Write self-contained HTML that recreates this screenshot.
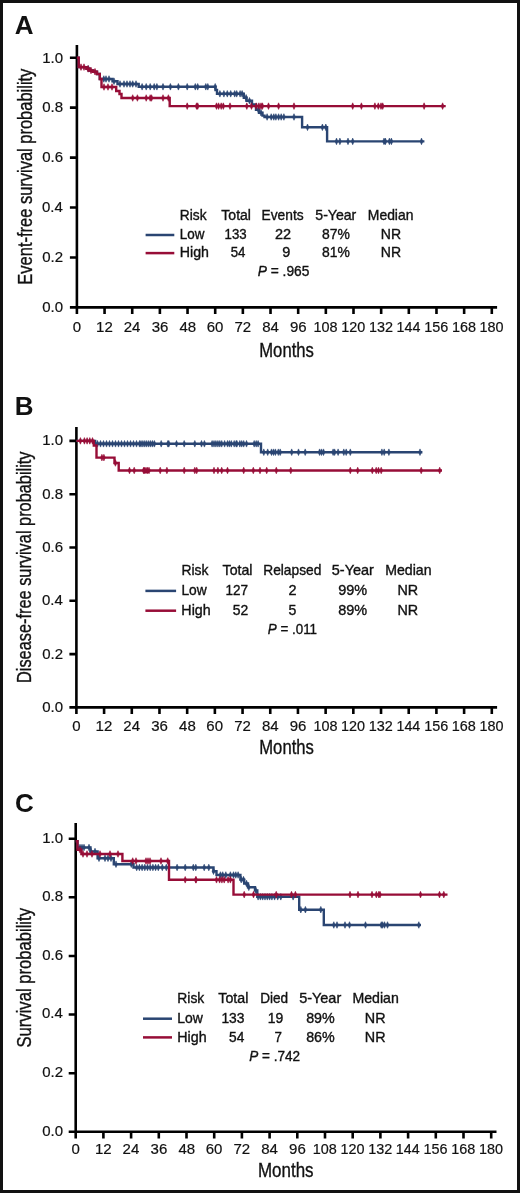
<!DOCTYPE html><html><head><meta charset="utf-8"><style>html,body{margin:0;padding:0;background:#fff;}svg{display:block;will-change:transform;}text{font-family:"Liberation Sans",sans-serif;}</style></head><body>
<svg width="520" height="1193" viewBox="0 0 520 1193">
<rect x="0" y="0" width="520" height="1193" fill="#fff"/>
<rect x="1.5" y="1.5" width="517" height="1190" fill="none" stroke="#111" stroke-width="3"/>
<path d="M76.9 45V314M69.9 307.4H497.1M69.9 257.46H76.9M69.9 207.52H76.9M69.9 157.58H76.9M69.9 107.64H76.9M69.9 57.7H76.9M104.56 307.4V314M132.22 307.4V314M159.88 307.4V314M187.54 307.4V314M215.2 307.4V314M242.86 307.4V314M270.52 307.4V314M298.18 307.4V314M325.84 307.4V314M353.5 307.4V314M381.16 307.4V314M408.82 307.4V314M436.48 307.4V314M464.14 307.4V314M491.8 307.4V314" fill="none" stroke="#000" stroke-width="2.6" stroke-linecap="butt"/>
<path d="M76.4 426.9V714M69.4 707.4H497.1M69.4 654.1H76.4M69.4 600.8H76.4M69.4 547.5H76.4M69.4 494.2H76.4M69.4 440.9H76.4M104.09 707.4V714M131.79 707.4V714M159.48 707.4V714M187.17 707.4V714M214.87 707.4V714M242.56 707.4V714M270.25 707.4V714M297.95 707.4V714M325.64 707.4V714M353.33 707.4V714M381.03 707.4V714M408.72 707.4V714M436.41 707.4V714M464.11 707.4V714M491.8 707.4V714" fill="none" stroke="#000" stroke-width="2.6" stroke-linecap="butt"/>
<path d="M75.7 823.1V1138.4M68.7 1131.8H496.5M68.7 1073.18H75.7M68.7 1014.56H75.7M68.7 955.94H75.7M68.7 897.32H75.7M68.7 838.7H75.7M103.4 1131.8V1138.4M131.1 1131.8V1138.4M158.8 1131.8V1138.4M186.5 1131.8V1138.4M214.2 1131.8V1138.4M241.9 1131.8V1138.4M269.6 1131.8V1138.4M297.3 1131.8V1138.4M325 1131.8V1138.4M352.7 1131.8V1138.4M380.4 1131.8V1138.4M408.1 1131.8V1138.4M435.8 1131.8V1138.4M463.5 1131.8V1138.4M491.2 1131.8V1138.4" fill="none" stroke="#000" stroke-width="2.6" stroke-linecap="butt"/>
<path d="M76.9 57.7H78.7V67.1H86.5V68.8H89.5V70.5H93V71.7H97V74H99.8V79H112.5V81.2H117.5V84H138.7V86.8H215.5V90H217V93.8H243.8V97.8H246.5V100.8H252V104.5H256V109.8H259V112.7H262.5V115.6H264.5V117H302.1V127.3H327.1V141.4H424.4" fill="none" stroke="#2a4572" stroke-width="2.4" stroke-linejoin="miter"/>
<path d="M88.3 65.5L89.7 68.8L88.3 72.1L86.9 68.8ZM103.8 75.7L105.2 79L103.8 82.3L102.4 79ZM106 75.7L107.4 79L106 82.3L104.6 79ZM109 75.7L110.4 79L109 82.3L107.6 79ZM114 77.9L115.4 81.2L114 84.5L112.6 81.2ZM120 80.7L121.4 84L120 87.3L118.6 84ZM124 80.7L125.4 84L124 87.3L122.6 84ZM127 80.7L128.4 84L127 87.3L125.6 84ZM130 80.7L131.4 84L130 87.3L128.6 84ZM132.7 80.7L134.1 84L132.7 87.3L131.3 84ZM136 80.7L137.4 84L136 87.3L134.6 84ZM142.1 83.5L143.5 86.8L142.1 90.1L140.7 86.8ZM146.2 83.5L147.6 86.8L146.2 90.1L144.8 86.8ZM150.2 83.5L151.6 86.8L150.2 90.1L148.8 86.8ZM154.2 83.5L155.6 86.8L154.2 90.1L152.8 86.8ZM156.9 83.5L158.3 86.8L156.9 90.1L155.5 86.8ZM163 83.5L164.4 86.8L163 90.1L161.6 86.8ZM170.4 83.5L171.8 86.8L170.4 90.1L169 86.8ZM178.4 83.5L179.8 86.8L178.4 90.1L177 86.8ZM187.2 83.5L188.6 86.8L187.2 90.1L185.8 86.8ZM195.3 83.5L196.7 86.8L195.3 90.1L193.9 86.8ZM197.7 83.5L199.1 86.8L197.7 90.1L196.3 86.8ZM205.8 83.5L207.2 86.8L205.8 90.1L204.4 86.8ZM207.8 83.5L209.2 86.8L207.8 90.1L206.4 86.8ZM215.2 83.5L216.6 86.8L215.2 90.1L213.8 86.8ZM219.9 90.5L221.3 93.8L219.9 97.1L218.5 93.8ZM223.9 90.5L225.3 93.8L223.9 97.1L222.5 93.8ZM227.3 90.5L228.7 93.8L227.3 97.1L225.9 93.8ZM230.7 90.5L232.1 93.8L230.7 97.1L229.3 93.8ZM234.7 90.5L236.1 93.8L234.7 97.1L233.3 93.8ZM236.7 90.5L238.1 93.8L236.7 97.1L235.3 93.8ZM240.1 90.5L241.5 93.8L240.1 97.1L238.7 93.8ZM242.1 90.5L243.5 93.8L242.1 97.1L240.7 93.8ZM246.1 94.5L247.5 97.8L246.1 101.1L244.7 97.8ZM249.5 97.5L250.9 100.8L249.5 104.1L248.1 100.8ZM258.4 106.5L259.8 109.8L258.4 113.1L257 109.8ZM261 109.4L262.4 112.7L261 116L259.6 112.7ZM267.1 113.7L268.5 117L267.1 120.3L265.7 117ZM271.2 113.7L272.6 117L271.2 120.3L269.8 117ZM273.8 113.7L275.2 117L273.8 120.3L272.4 117ZM275.9 113.7L277.3 117L275.9 120.3L274.5 117ZM278.6 113.7L280 117L278.6 120.3L277.2 117ZM281.2 113.7L282.6 117L281.2 120.3L279.8 117ZM283.9 113.7L285.3 117L283.9 120.3L282.5 117ZM294 113.7L295.4 117L294 120.3L292.6 117ZM307.5 124L308.9 127.3L307.5 130.6L306.1 127.3ZM322.4 124L323.8 127.3L322.4 130.6L321 127.3ZM325.8 124L327.2 127.3L325.8 130.6L324.4 127.3ZM336.5 138.1L337.9 141.4L336.5 144.7L335.1 141.4ZM339.9 138.1L341.3 141.4L339.9 144.7L338.5 141.4ZM348 138.1L349.4 141.4L348 144.7L346.6 141.4ZM352.7 138.1L354.1 141.4L352.7 144.7L351.3 141.4ZM384 138.1L385.4 141.4L384 144.7L382.6 141.4ZM385.4 138.1L386.8 141.4L385.4 144.7L384 141.4ZM389.4 138.1L390.8 141.4L389.4 144.7L388 141.4ZM391.4 138.1L392.8 141.4L391.4 144.7L390 141.4ZM421.5 138.1L422.9 141.4L421.5 144.7L420.1 141.4Z" fill="#2a4572" stroke="#2a4572" stroke-width="0.6" stroke-linejoin="round"/>
<path d="M76.9 57.7H78.7V67.1H86.5V68.8H89.5V70.5H93V71.7H97V74H99.8V79H101.5V87H116.2V91H119.5V94H121.5V98H169.7V106.1H445.7" fill="none" stroke="#970d37" stroke-width="2.4" stroke-linejoin="miter"/>
<path d="M81 63.8L82.4 67.1L81 70.4L79.6 67.1ZM84 63.8L85.4 67.1L84 70.4L82.6 67.1ZM88 65.5L89.4 68.8L88 72.1L86.6 68.8ZM91 67.2L92.4 70.5L91 73.8L89.6 70.5ZM95 68.4L96.4 71.7L95 75L93.6 71.7ZM104 83.7L105.4 87L104 90.3L102.6 87ZM108 83.7L109.4 87L108 90.3L106.6 87ZM112 83.7L113.4 87L112 90.3L110.6 87ZM132.7 94.7L134.1 98L132.7 101.3L131.3 98ZM137.4 94.7L138.8 98L137.4 101.3L136 98ZM146.2 94.7L147.6 98L146.2 101.3L144.8 98ZM150.2 94.7L151.6 98L150.2 101.3L148.8 98ZM151.5 94.7L152.9 98L151.5 101.3L150.1 98ZM163 94.7L164.4 98L163 101.3L161.6 98ZM168.4 94.7L169.8 98L168.4 101.3L167 98ZM187.2 102.8L188.6 106.1L187.2 109.4L185.8 106.1ZM196.6 102.8L198 106.1L196.6 109.4L195.2 106.1ZM197.7 102.8L199.1 106.1L197.7 109.4L196.3 106.1ZM216.5 102.8L217.9 106.1L216.5 109.4L215.1 106.1ZM218.6 102.8L220 106.1L218.6 109.4L217.2 106.1ZM221.2 102.8L222.6 106.1L221.2 109.4L219.8 106.1ZM223.3 102.8L224.7 106.1L223.3 109.4L221.9 106.1ZM230 102.8L231.4 106.1L230 109.4L228.6 106.1ZM246.8 102.8L248.2 106.1L246.8 109.4L245.4 106.1ZM251.5 102.8L252.9 106.1L251.5 109.4L250.1 106.1ZM256.2 102.8L257.6 106.1L256.2 109.4L254.8 106.1ZM258.9 102.8L260.3 106.1L258.9 109.4L257.5 106.1ZM261 102.8L262.4 106.1L261 109.4L259.6 106.1ZM262.4 102.8L263.8 106.1L262.4 109.4L261 106.1ZM268.5 102.8L269.9 106.1L268.5 109.4L267.1 106.1ZM278.6 102.8L280 106.1L278.6 109.4L277.2 106.1ZM294 102.8L295.4 106.1L294 109.4L292.6 106.1ZM352.7 102.8L354.1 106.1L352.7 109.4L351.3 106.1ZM361.4 102.8L362.8 106.1L361.4 109.4L360 106.1ZM374.9 102.8L376.3 106.1L374.9 109.4L373.5 106.1ZM378.3 102.8L379.7 106.1L378.3 109.4L376.9 106.1ZM381 102.8L382.4 106.1L381 109.4L379.6 106.1ZM382.7 102.8L384.1 106.1L382.7 109.4L381.3 106.1ZM424.1 102.8L425.5 106.1L424.1 109.4L422.7 106.1ZM442.6 102.8L444 106.1L442.6 109.4L441.2 106.1Z" fill="#970d37" stroke="#970d37" stroke-width="0.6" stroke-linejoin="round"/>
<path d="M76.4 440.9H95.2V443.8H261V452.2H422.4" fill="none" stroke="#2a4572" stroke-width="2.4" stroke-linejoin="miter"/>
<path d="M97.5 440.5L98.9 443.8L97.5 447.1L96.1 443.8ZM100.5 440.5L101.9 443.8L100.5 447.1L99.1 443.8ZM103.5 440.5L104.9 443.8L103.5 447.1L102.1 443.8ZM106.5 440.5L107.9 443.8L106.5 447.1L105.1 443.8ZM109.5 440.5L110.9 443.8L109.5 447.1L108.1 443.8ZM112.5 440.5L113.9 443.8L112.5 447.1L111.1 443.8ZM115.5 440.5L116.9 443.8L115.5 447.1L114.1 443.8ZM118.5 440.5L119.9 443.8L118.5 447.1L117.1 443.8ZM121.5 440.5L122.9 443.8L121.5 447.1L120.1 443.8ZM124.5 440.5L125.9 443.8L124.5 447.1L123.1 443.8ZM127.5 440.5L128.9 443.8L127.5 447.1L126.1 443.8ZM130.5 440.5L131.9 443.8L130.5 447.1L129.1 443.8ZM133.5 440.5L134.9 443.8L133.5 447.1L132.1 443.8ZM136.5 440.5L137.9 443.8L136.5 447.1L135.1 443.8ZM139.5 440.5L140.9 443.8L139.5 447.1L138.1 443.8ZM141 440.5L142.4 443.8L141 447.1L139.6 443.8ZM142.9 440.5L144.3 443.8L142.9 447.1L141.5 443.8ZM144.8 440.5L146.2 443.8L144.8 447.1L143.4 443.8ZM146.7 440.5L148.1 443.8L146.7 447.1L145.3 443.8ZM148.7 440.5L150.1 443.8L148.7 447.1L147.3 443.8ZM150.6 440.5L152 443.8L150.6 447.1L149.2 443.8ZM152.5 440.5L153.9 443.8L152.5 447.1L151.1 443.8ZM154.4 440.5L155.8 443.8L154.4 447.1L153 443.8ZM161.2 440.5L162.6 443.8L161.2 447.1L159.8 443.8ZM167.9 440.5L169.3 443.8L167.9 447.1L166.5 443.8ZM168.8 440.5L170.2 443.8L168.8 447.1L167.4 443.8ZM176.5 440.5L177.9 443.8L176.5 447.1L175.1 443.8ZM184.2 440.5L185.6 443.8L184.2 447.1L182.8 443.8ZM194.8 440.5L196.2 443.8L194.8 447.1L193.4 443.8ZM201.5 440.5L202.9 443.8L201.5 447.1L200.1 443.8ZM204.4 440.5L205.8 443.8L204.4 447.1L203 443.8ZM212.1 440.5L213.5 443.8L212.1 447.1L210.7 443.8ZM214 440.5L215.4 443.8L214 447.1L212.6 443.8ZM215.9 440.5L217.3 443.8L215.9 447.1L214.5 443.8ZM217.9 440.5L219.3 443.8L217.9 447.1L216.5 443.8ZM219.8 440.5L221.2 443.8L219.8 447.1L218.4 443.8ZM221.7 440.5L223.1 443.8L221.7 447.1L220.3 443.8ZM224.6 440.5L226 443.8L224.6 447.1L223.2 443.8ZM227.5 440.5L228.9 443.8L227.5 447.1L226.1 443.8ZM229.4 440.5L230.8 443.8L229.4 447.1L228 443.8ZM231.3 440.5L232.7 443.8L231.3 447.1L229.9 443.8ZM234.2 440.5L235.6 443.8L234.2 447.1L232.8 443.8ZM236.2 440.5L237.6 443.8L236.2 447.1L234.8 443.8ZM236.9 440.5L238.3 443.8L236.9 447.1L235.5 443.8ZM239.8 440.5L241.2 443.8L239.8 447.1L238.4 443.8ZM241.7 440.5L243.1 443.8L241.7 447.1L240.3 443.8ZM243.7 440.5L245.1 443.8L243.7 447.1L242.3 443.8ZM246.5 440.5L247.9 443.8L246.5 447.1L245.1 443.8ZM254.2 440.5L255.6 443.8L254.2 447.1L252.8 443.8ZM256.2 440.5L257.6 443.8L256.2 447.1L254.8 443.8ZM258.1 440.5L259.5 443.8L258.1 447.1L256.7 443.8ZM263.8 448.9L265.2 452.2L263.8 455.5L262.4 452.2ZM267.7 448.9L269.1 452.2L267.7 455.5L266.3 452.2ZM271.5 448.9L272.9 452.2L271.5 455.5L270.1 452.2ZM273.5 448.9L274.9 452.2L273.5 455.5L272.1 452.2ZM275.4 448.9L276.8 452.2L275.4 455.5L274 452.2ZM278.3 448.9L279.7 452.2L278.3 455.5L276.9 452.2ZM280.2 448.9L281.6 452.2L280.2 455.5L278.8 452.2ZM291.7 448.9L293.1 452.2L291.7 455.5L290.3 452.2ZM298.5 448.9L299.9 452.2L298.5 455.5L297.1 452.2ZM305.2 448.9L306.6 452.2L305.2 455.5L303.8 452.2ZM319.6 448.9L321 452.2L319.6 455.5L318.2 452.2ZM321.5 448.9L322.9 452.2L321.5 455.5L320.1 452.2ZM323.5 448.9L324.9 452.2L323.5 455.5L322.1 452.2ZM333.1 448.9L334.5 452.2L333.1 455.5L331.7 452.2ZM334.6 448.9L336 452.2L334.6 455.5L333.2 452.2ZM338.1 448.9L339.5 452.2L338.1 455.5L336.7 452.2ZM343.8 448.9L345.2 452.2L343.8 455.5L342.4 452.2ZM346.2 448.9L347.6 452.2L346.2 455.5L344.8 452.2ZM350.3 448.9L351.7 452.2L350.3 455.5L348.9 452.2ZM381.9 448.9L383.3 452.2L381.9 455.5L380.5 452.2ZM384.2 448.9L385.6 452.2L384.2 455.5L382.8 452.2ZM388.9 448.9L390.3 452.2L388.9 455.5L387.5 452.2ZM420 448.9L421.4 452.2L420 455.5L418.6 452.2Z" fill="#2a4572" stroke="#2a4572" stroke-width="0.6" stroke-linejoin="round"/>
<path d="M76.4 440.9H93.8V445.5H96.5V457.6H114.5V463H118.7V470.5H442" fill="none" stroke="#970d37" stroke-width="2.4" stroke-linejoin="miter"/>
<path d="M80.4 437.6L81.8 440.9L80.4 444.2L79 440.9ZM84.4 437.6L85.8 440.9L84.4 444.2L83 440.9ZM87.1 437.6L88.5 440.9L87.1 444.2L85.7 440.9ZM89.8 437.6L91.2 440.9L89.8 444.2L88.4 440.9ZM92.5 437.6L93.9 440.9L92.5 444.2L91.1 440.9ZM101.9 454.3L103.3 457.6L101.9 460.9L100.5 457.6ZM103.9 454.3L105.3 457.6L103.9 460.9L102.5 457.6ZM115.4 459.7L116.8 463L115.4 466.3L114 463ZM129.5 467.2L130.9 470.5L129.5 473.8L128.1 470.5ZM134.2 467.2L135.6 470.5L134.2 473.8L132.8 470.5ZM143.6 467.2L145 470.5L143.6 473.8L142.2 470.5ZM144.5 467.2L145.9 470.5L144.5 473.8L143.1 470.5ZM146 467.2L147.4 470.5L146 473.8L144.6 470.5ZM147.5 467.2L148.9 470.5L147.5 473.8L146.1 470.5ZM149 467.2L150.4 470.5L149 473.8L147.6 470.5ZM160.2 467.2L161.6 470.5L160.2 473.8L158.8 470.5ZM166.9 467.2L168.3 470.5L166.9 473.8L165.5 470.5ZM184.2 467.2L185.6 470.5L184.2 473.8L182.8 470.5ZM194.8 467.2L196.2 470.5L194.8 473.8L193.4 470.5ZM196.7 467.2L198.1 470.5L196.7 473.8L195.3 470.5ZM214 467.2L215.4 470.5L214 473.8L212.6 470.5ZM217.9 467.2L219.3 470.5L217.9 473.8L216.5 470.5ZM221.7 467.2L223.1 470.5L221.7 473.8L220.3 470.5ZM227.5 467.2L228.9 470.5L227.5 473.8L226.1 470.5ZM243.7 467.2L245.1 470.5L243.7 473.8L242.3 470.5ZM253.3 467.2L254.7 470.5L253.3 473.8L251.9 470.5ZM260 467.2L261.4 470.5L260 473.8L258.6 470.5ZM266.7 467.2L268.1 470.5L266.7 473.8L265.3 470.5ZM276.3 467.2L277.7 470.5L276.3 473.8L274.9 470.5ZM290.8 467.2L292.2 470.5L290.8 473.8L289.4 470.5ZM350.3 467.2L351.7 470.5L350.3 473.8L348.9 470.5ZM357.7 467.2L359.1 470.5L357.7 473.8L356.3 470.5ZM372.3 467.2L373.7 470.5L372.3 473.8L370.9 470.5ZM376.2 467.2L377.6 470.5L376.2 473.8L374.8 470.5ZM378.5 467.2L379.9 470.5L378.5 473.8L377.1 470.5ZM381.2 467.2L382.6 470.5L381.2 473.8L379.8 470.5ZM421.2 467.2L422.6 470.5L421.2 473.8L419.8 470.5ZM439.7 467.2L441.1 470.5L439.7 473.8L438.3 470.5Z" fill="#970d37" stroke="#970d37" stroke-width="0.6" stroke-linejoin="round"/>
<path d="M75.7 841.2H77.5V847.5H90.5V851.5H97.6V858.3H113.8V864.2H133.5V867.5H213.5V871.2H216.5V875H240.4V879.6H244.2V883.5H248V887.3H255V890.4H257.3V896.8H299.2V909.7H323.8V925H421" fill="none" stroke="#2a4572" stroke-width="2.4" stroke-linejoin="miter"/>
<path d="M80 844.2L81.4 847.5L80 850.8L78.6 847.5ZM82 844.2L83.4 847.5L82 850.8L80.6 847.5ZM84 844.2L85.4 847.5L84 850.8L82.6 847.5ZM89 844.2L90.4 847.5L89 850.8L87.6 847.5ZM91 848.2L92.4 851.5L91 854.8L89.6 851.5ZM95 848.2L96.4 851.5L95 854.8L93.6 851.5ZM99 855L100.4 858.3L99 861.6L97.6 858.3ZM105 855L106.4 858.3L105 861.6L103.6 858.3ZM108 855L109.4 858.3L108 861.6L106.6 858.3ZM111 855L112.4 858.3L111 861.6L109.6 858.3ZM116 860.9L117.4 864.2L116 867.5L114.6 864.2ZM131.3 860.9L132.7 864.2L131.3 867.5L129.9 864.2ZM136.7 864.2L138.1 867.5L136.7 870.8L135.3 867.5ZM139.4 864.2L140.8 867.5L139.4 870.8L138 867.5ZM142.1 864.2L143.5 867.5L142.1 870.8L140.7 867.5ZM144.8 864.2L146.2 867.5L144.8 870.8L143.4 867.5ZM147.5 864.2L148.9 867.5L147.5 870.8L146.1 867.5ZM150.2 864.2L151.6 867.5L150.2 870.8L148.8 867.5ZM152.9 864.2L154.3 867.5L152.9 870.8L151.5 867.5ZM155.6 864.2L157 867.5L155.6 870.8L154.2 867.5ZM158.3 864.2L159.7 867.5L158.3 870.8L156.9 867.5ZM162.3 864.2L163.7 867.5L162.3 870.8L160.9 867.5ZM166.3 864.2L167.7 867.5L166.3 870.8L164.9 867.5ZM177.1 864.2L178.5 867.5L177.1 870.8L175.7 867.5ZM185.2 864.2L186.6 867.5L185.2 870.8L183.8 867.5ZM193.3 864.2L194.7 867.5L193.3 870.8L191.9 867.5ZM195.8 864.2L197.2 867.5L195.8 870.8L194.4 867.5ZM204.2 864.2L205.6 867.5L204.2 870.8L202.8 867.5ZM208.8 864.2L210.2 867.5L208.8 870.8L207.4 867.5ZM213.5 867.9L214.9 871.2L213.5 874.5L212.1 871.2ZM220.4 871.7L221.8 875L220.4 878.3L219 875ZM222.7 871.7L224.1 875L222.7 878.3L221.3 875ZM225.8 871.7L227.2 875L225.8 878.3L224.4 875ZM230.4 871.7L231.8 875L230.4 878.3L229 875ZM233.5 871.7L234.9 875L233.5 878.3L232.1 875ZM235.8 871.7L237.2 875L235.8 878.3L234.4 875ZM238.1 871.7L239.5 875L238.1 878.3L236.7 875ZM241.2 876.3L242.6 879.6L241.2 882.9L239.8 879.6ZM243.5 876.3L244.9 879.6L243.5 882.9L242.1 879.6ZM246.5 880.2L247.9 883.5L246.5 886.8L245.1 883.5ZM248.8 884L250.2 887.3L248.8 890.6L247.4 887.3ZM255.8 887.1L257.2 890.4L255.8 893.7L254.4 890.4ZM258.1 893.5L259.5 896.8L258.1 900.1L256.7 896.8ZM260.4 893.5L261.8 896.8L260.4 900.1L259 896.8ZM262.7 893.5L264.1 896.8L262.7 900.1L261.3 896.8ZM265 893.5L266.4 896.8L265 900.1L263.6 896.8ZM267.3 893.5L268.7 896.8L267.3 900.1L265.9 896.8ZM269.6 893.5L271 896.8L269.6 900.1L268.2 896.8ZM271.9 893.5L273.3 896.8L271.9 900.1L270.5 896.8ZM274.6 893.5L276 896.8L274.6 900.1L273.2 896.8ZM277.7 893.5L279.1 896.8L277.7 900.1L276.3 896.8ZM280.8 893.5L282.2 896.8L280.8 900.1L279.4 896.8ZM293.1 893.5L294.5 896.8L293.1 900.1L291.7 896.8ZM300.8 906.4L302.2 909.7L300.8 913L299.4 909.7ZM305.4 906.4L306.8 909.7L305.4 913L304 909.7ZM320.8 906.4L322.2 909.7L320.8 913L319.4 909.7ZM333.8 921.7L335.2 925L333.8 928.3L332.4 925ZM337 921.7L338.4 925L337 928.3L335.6 925ZM345 921.7L346.4 925L345 928.3L343.6 925ZM349.5 921.7L350.9 925L349.5 928.3L348.1 925ZM365.5 921.7L366.9 925L365.5 928.3L364.1 925ZM381.3 921.7L382.7 925L381.3 928.3L379.9 925ZM382.5 921.7L383.9 925L382.5 928.3L381.1 925ZM384.5 921.7L385.9 925L384.5 928.3L383.1 925ZM387.5 921.7L388.9 925L387.5 928.3L386.1 925ZM418.8 921.7L420.2 925L418.8 928.3L417.4 925Z" fill="#2a4572" stroke="#2a4572" stroke-width="0.6" stroke-linejoin="round"/>
<path d="M75.7 841.2H77.5V849.8H81.4V854H122.4V861H169V879.8H233.5V894.6H447.5" fill="none" stroke="#970d37" stroke-width="2.4" stroke-linejoin="miter"/>
<path d="M80 846.5L81.4 849.8L80 853.1L78.6 849.8ZM83 850.7L84.4 854L83 857.3L81.6 854ZM87 850.7L88.4 854L87 857.3L85.6 854ZM92 850.7L93.4 854L92 857.3L90.6 854ZM100 850.7L101.4 854L100 857.3L98.6 854ZM110 850.7L111.4 854L110 857.3L108.6 854ZM118 850.7L119.4 854L118 857.3L116.6 854ZM132.7 857.7L134.1 861L132.7 864.3L131.3 861ZM136 857.7L137.4 861L136 864.3L134.6 861ZM146 857.7L147.4 861L146 864.3L144.6 861ZM148 857.7L149.4 861L148 864.3L146.6 861ZM150 857.7L151.4 861L150 864.3L148.6 861ZM161 857.7L162.4 861L161 864.3L159.6 861ZM167.7 857.7L169.1 861L167.7 864.3L166.3 861ZM185.2 876.5L186.6 879.8L185.2 883.1L183.8 879.8ZM196 876.5L197.4 879.8L196 883.1L194.6 879.8ZM195.8 876.5L197.2 879.8L195.8 883.1L194.4 879.8ZM216.5 876.5L217.9 879.8L216.5 883.1L215.1 879.8ZM219.6 876.5L221 879.8L219.6 883.1L218.2 879.8ZM221.9 876.5L223.3 879.8L221.9 883.1L220.5 879.8ZM224.2 876.5L225.6 879.8L224.2 883.1L222.8 879.8ZM228.1 876.5L229.5 879.8L228.1 883.1L226.7 879.8ZM230.4 876.5L231.8 879.8L230.4 883.1L229 879.8ZM244.2 891.3L245.6 894.6L244.2 897.9L242.8 894.6ZM253.5 891.3L254.9 894.6L253.5 897.9L252.1 894.6ZM276.2 891.3L277.6 894.6L276.2 897.9L274.8 894.6ZM291.5 891.3L292.9 894.6L291.5 897.9L290.1 894.6ZM295.4 891.3L296.8 894.6L295.4 897.9L294 894.6ZM350 891.3L351.4 894.6L350 897.9L348.6 894.6ZM358 891.3L359.4 894.6L358 897.9L356.6 894.6ZM372 891.3L373.4 894.6L372 897.9L370.6 894.6ZM376.3 891.3L377.7 894.6L376.3 897.9L374.9 894.6ZM378.8 891.3L380.2 894.6L378.8 897.9L377.4 894.6ZM380 891.3L381.4 894.6L380 897.9L378.6 894.6ZM420.5 891.3L421.9 894.6L420.5 897.9L419.1 894.6ZM439.5 891.3L440.9 894.6L439.5 897.9L438.1 894.6ZM443.8 891.3L445.2 894.6L443.8 897.9L442.4 894.6Z" fill="#970d37" stroke="#970d37" stroke-width="0.6" stroke-linejoin="round"/>
<path d="M145.6 235H174.3" stroke="#2a4572" stroke-width="2.5"/>
<path d="M145.6 253.1H174.3" stroke="#970d37" stroke-width="2.5"/>
<path d="M145.4 590.9H176.1" stroke="#2a4572" stroke-width="2.5"/>
<path d="M145.4 610.7H176.1" stroke="#970d37" stroke-width="2.5"/>
<path d="M143 1018.7H172" stroke="#2a4572" stroke-width="2.5"/>
<path d="M143 1037.4H172" stroke="#970d37" stroke-width="2.5"/>
<text transform="translate(14.67 33.5)" font-size="26" font-weight="bold" fill="#111">A</text>
<text transform="translate(14.73 415.4)" font-size="26" font-weight="bold" fill="#111">B</text>
<text transform="translate(14.9 812.4)" font-size="26" font-weight="bold" fill="#111">C</text>
<text transform="translate(42.15 312.2)" font-size="15.0" fill="#111" stroke="#111" stroke-width="0.2">0.0</text>
<text transform="translate(42.15 262.26)" font-size="15.0" fill="#111" stroke="#111" stroke-width="0.2">0.2</text>
<text transform="translate(41.9 212.32)" font-size="15.0" fill="#111" stroke="#111" stroke-width="0.2">0.4</text>
<text transform="translate(42.15 162.38)" font-size="15.0" fill="#111" stroke="#111" stroke-width="0.2">0.6</text>
<text transform="translate(42.15 112.44)" font-size="15.0" fill="#111" stroke="#111" stroke-width="0.2">0.8</text>
<text transform="translate(42.15 62.5)" font-size="15.0" fill="#111" stroke="#111" stroke-width="0.2">1.0</text>
<text transform="translate(72.78 331.9)" font-size="15.0" fill="#111" stroke="#111" stroke-width="0.2">0</text>
<text transform="translate(96.06 331.9)" font-size="15.0" fill="#111" stroke="#111" stroke-width="0.2">12</text>
<text transform="translate(123.72 331.9)" font-size="15.0" fill="#111" stroke="#111" stroke-width="0.2">24</text>
<text transform="translate(151.63 331.9)" font-size="15.0" fill="#111" stroke="#111" stroke-width="0.2">36</text>
<text transform="translate(179.41 331.9)" font-size="15.0" fill="#111" stroke="#111" stroke-width="0.2">48</text>
<text transform="translate(206.7 331.9)" font-size="15.0" fill="#111" stroke="#111" stroke-width="0.2">60</text>
<text transform="translate(234.49 331.9)" font-size="15.0" fill="#111" stroke="#111" stroke-width="0.2">72</text>
<text transform="translate(262.14 331.9)" font-size="15.0" fill="#111" stroke="#111" stroke-width="0.2">84</text>
<text transform="translate(289.93 331.9)" font-size="15.0" fill="#111" stroke="#111" stroke-width="0.2">96</text>
<text transform="translate(313.58 331.9) scale(0.9617 1)" font-size="15.0" fill="#111" stroke="#111" stroke-width="0.2">108</text>
<text transform="translate(341.24 331.9) scale(0.9617 1)" font-size="15.0" fill="#111" stroke="#111" stroke-width="0.2">120</text>
<text transform="translate(368.9 331.9) scale(0.9617 1)" font-size="15.0" fill="#111" stroke="#111" stroke-width="0.2">132</text>
<text transform="translate(396.57 331.9) scale(0.9516 1)" font-size="15.0" fill="#111" stroke="#111" stroke-width="0.2">144</text>
<text transform="translate(424.22 331.9) scale(0.9617 1)" font-size="15.0" fill="#111" stroke="#111" stroke-width="0.2">156</text>
<text transform="translate(451.88 331.9) scale(0.9617 1)" font-size="15.0" fill="#111" stroke="#111" stroke-width="0.2">168</text>
<text transform="translate(479.54 331.9) scale(0.9617 1)" font-size="15.0" fill="#111" stroke="#111" stroke-width="0.2">180</text>
<text transform="translate(42.15 711.9)" font-size="15.0" fill="#111" stroke="#111" stroke-width="0.2">0.0</text>
<text transform="translate(42.15 658.6)" font-size="15.0" fill="#111" stroke="#111" stroke-width="0.2">0.2</text>
<text transform="translate(41.9 605.3)" font-size="15.0" fill="#111" stroke="#111" stroke-width="0.2">0.4</text>
<text transform="translate(42.15 552)" font-size="15.0" fill="#111" stroke="#111" stroke-width="0.2">0.6</text>
<text transform="translate(42.15 498.7)" font-size="15.0" fill="#111" stroke="#111" stroke-width="0.2">0.8</text>
<text transform="translate(42.15 445.4)" font-size="15.0" fill="#111" stroke="#111" stroke-width="0.2">1.0</text>
<text transform="translate(72.28 730.7)" font-size="15.0" fill="#111" stroke="#111" stroke-width="0.2">0</text>
<text transform="translate(95.59 730.7)" font-size="15.0" fill="#111" stroke="#111" stroke-width="0.2">12</text>
<text transform="translate(123.29 730.7)" font-size="15.0" fill="#111" stroke="#111" stroke-width="0.2">24</text>
<text transform="translate(151.23 730.7)" font-size="15.0" fill="#111" stroke="#111" stroke-width="0.2">36</text>
<text transform="translate(179.05 730.7)" font-size="15.0" fill="#111" stroke="#111" stroke-width="0.2">48</text>
<text transform="translate(206.37 730.7)" font-size="15.0" fill="#111" stroke="#111" stroke-width="0.2">60</text>
<text transform="translate(234.19 730.7)" font-size="15.0" fill="#111" stroke="#111" stroke-width="0.2">72</text>
<text transform="translate(261.88 730.7)" font-size="15.0" fill="#111" stroke="#111" stroke-width="0.2">84</text>
<text transform="translate(289.7 730.7)" font-size="15.0" fill="#111" stroke="#111" stroke-width="0.2">96</text>
<text transform="translate(313.38 730.7) scale(0.9617 1)" font-size="15.0" fill="#111" stroke="#111" stroke-width="0.2">108</text>
<text transform="translate(341.07 730.7) scale(0.9617 1)" font-size="15.0" fill="#111" stroke="#111" stroke-width="0.2">120</text>
<text transform="translate(368.76 730.7) scale(0.9617 1)" font-size="15.0" fill="#111" stroke="#111" stroke-width="0.2">132</text>
<text transform="translate(396.47 730.7) scale(0.9516 1)" font-size="15.0" fill="#111" stroke="#111" stroke-width="0.2">144</text>
<text transform="translate(424.15 730.7) scale(0.9617 1)" font-size="15.0" fill="#111" stroke="#111" stroke-width="0.2">156</text>
<text transform="translate(451.84 730.7) scale(0.9617 1)" font-size="15.0" fill="#111" stroke="#111" stroke-width="0.2">168</text>
<text transform="translate(479.54 730.7) scale(0.9617 1)" font-size="15.0" fill="#111" stroke="#111" stroke-width="0.2">180</text>
<text transform="translate(42.15 1135.6)" font-size="15.0" fill="#111" stroke="#111" stroke-width="0.2">0.0</text>
<text transform="translate(42.15 1076.98)" font-size="15.0" fill="#111" stroke="#111" stroke-width="0.2">0.2</text>
<text transform="translate(41.9 1018.36)" font-size="15.0" fill="#111" stroke="#111" stroke-width="0.2">0.4</text>
<text transform="translate(42.15 959.74)" font-size="15.0" fill="#111" stroke="#111" stroke-width="0.2">0.6</text>
<text transform="translate(42.15 901.12)" font-size="15.0" fill="#111" stroke="#111" stroke-width="0.2">0.8</text>
<text transform="translate(42.15 842.5)" font-size="15.0" fill="#111" stroke="#111" stroke-width="0.2">1.0</text>
<text transform="translate(71.58 1153.8)" font-size="15.0" fill="#111" stroke="#111" stroke-width="0.2">0</text>
<text transform="translate(94.9 1153.8)" font-size="15.0" fill="#111" stroke="#111" stroke-width="0.2">12</text>
<text transform="translate(122.6 1153.8)" font-size="15.0" fill="#111" stroke="#111" stroke-width="0.2">24</text>
<text transform="translate(150.55 1153.8)" font-size="15.0" fill="#111" stroke="#111" stroke-width="0.2">36</text>
<text transform="translate(178.38 1153.8)" font-size="15.0" fill="#111" stroke="#111" stroke-width="0.2">48</text>
<text transform="translate(205.7 1153.8)" font-size="15.0" fill="#111" stroke="#111" stroke-width="0.2">60</text>
<text transform="translate(233.52 1153.8)" font-size="15.0" fill="#111" stroke="#111" stroke-width="0.2">72</text>
<text transform="translate(261.23 1153.8)" font-size="15.0" fill="#111" stroke="#111" stroke-width="0.2">84</text>
<text transform="translate(289.05 1153.8)" font-size="15.0" fill="#111" stroke="#111" stroke-width="0.2">96</text>
<text transform="translate(312.74 1153.8) scale(0.9617 1)" font-size="15.0" fill="#111" stroke="#111" stroke-width="0.2">108</text>
<text transform="translate(340.44 1153.8) scale(0.9617 1)" font-size="15.0" fill="#111" stroke="#111" stroke-width="0.2">120</text>
<text transform="translate(368.14 1153.8) scale(0.9617 1)" font-size="15.0" fill="#111" stroke="#111" stroke-width="0.2">132</text>
<text transform="translate(395.85 1153.8) scale(0.9516 1)" font-size="15.0" fill="#111" stroke="#111" stroke-width="0.2">144</text>
<text transform="translate(423.54 1153.8) scale(0.9617 1)" font-size="15.0" fill="#111" stroke="#111" stroke-width="0.2">156</text>
<text transform="translate(451.24 1153.8) scale(0.9617 1)" font-size="15.0" fill="#111" stroke="#111" stroke-width="0.2">168</text>
<text transform="translate(478.94 1153.8) scale(0.9617 1)" font-size="15.0" fill="#111" stroke="#111" stroke-width="0.2">180</text>
<text transform="translate(259.25 356.8) scale(0.8331 1)" font-size="20" fill="#111" stroke="#111" stroke-width="0.35">Months</text>
<text transform="translate(259.25 753.8) scale(0.8331 1)" font-size="20" fill="#111" stroke="#111" stroke-width="0.35">Months</text>
<text transform="translate(257.93 1176.9) scale(0.8488 1)" font-size="20" fill="#111" stroke="#111" stroke-width="0.35">Months</text>
<text transform="translate(31.6 284.64) rotate(-90) scale(0.8238 1)" font-size="20" fill="#111" stroke="#111" stroke-width="0.35">Event-free survival probability</text>
<text transform="translate(31.4 683.03) rotate(-90) scale(0.8177 1)" font-size="20" fill="#111" stroke="#111" stroke-width="0.35">Disease-free survival probability</text>
<text transform="translate(31.4 1047.53) rotate(-90) scale(0.8318 1)" font-size="20" fill="#111" stroke="#111" stroke-width="0.35">Survival probability</text>
<text transform="translate(179.8 220) scale(0.9981 1)" font-size="13.8" fill="#111" stroke="#111" stroke-width="0.35">Risk</text>
<text transform="translate(221.35 220) scale(1.0179 1)" font-size="13.8" fill="#111" stroke="#111" stroke-width="0.35">Total</text>
<text transform="translate(261.5 220) scale(0.9988 1)" font-size="13.8" fill="#111" stroke="#111" stroke-width="0.35">Events</text>
<text transform="translate(315.29 220) scale(1.0228 1)" font-size="13.8" fill="#111" stroke="#111" stroke-width="0.35">5-Year</text>
<text transform="translate(367.79 220) scale(1.0092 1)" font-size="13.8" fill="#111" stroke="#111" stroke-width="0.35">Median</text>
<text transform="translate(179.82 238.5) scale(0.9755 1)" font-size="13.8" fill="#111" stroke="#111" stroke-width="0.35">Low</text>
<text transform="translate(224.52 238.5) scale(0.9600 1)" font-size="13.8" fill="#111" stroke="#111" stroke-width="0.35">133</text>
<text transform="translate(274.99 238.5) scale(1.0500 1)" font-size="13.8" fill="#111" stroke="#111" stroke-width="0.35">22</text>
<text transform="translate(322 238.5) scale(1.0093 1)" font-size="13.8" fill="#111" stroke="#111" stroke-width="0.35">87%</text>
<text transform="translate(380.78 238.5) scale(1.0192 1)" font-size="13.8" fill="#111" stroke="#111" stroke-width="0.35">NR</text>
<text transform="translate(179.77 257.3) scale(1.0302 1)" font-size="13.8" fill="#111" stroke="#111" stroke-width="0.35">High</text>
<text transform="translate(230.66 257.3) scale(0.9600 1)" font-size="13.8" fill="#111" stroke="#111" stroke-width="0.35">54</text>
<text transform="translate(282.36 257.3) scale(1.0500 1)" font-size="13.8" fill="#111" stroke="#111" stroke-width="0.35">9</text>
<text transform="translate(322 257.3) scale(1.0093 1)" font-size="13.8" fill="#111" stroke="#111" stroke-width="0.35">81%</text>
<text transform="translate(380.78 257.3) scale(1.0192 1)" font-size="13.8" fill="#111" stroke="#111" stroke-width="0.35">NR</text>
<text transform="translate(257.7 275.5) scale(0.9990 1)" font-size="13.8" fill="#111" stroke="#111" stroke-width="0.35"><tspan font-style="italic">P</tspan> = .965</text>
<text transform="translate(181.39 575) scale(1.0097 1)" font-size="13.8" fill="#111" stroke="#111" stroke-width="0.35">Risk</text>
<text transform="translate(222.54 575) scale(1.0286 1)" font-size="13.8" fill="#111" stroke="#111" stroke-width="0.35">Total</text>
<text transform="translate(263.2 575) scale(0.9982 1)" font-size="13.8" fill="#111" stroke="#111" stroke-width="0.35">Relapsed</text>
<text transform="translate(331.79 575) scale(1.0500 1)" font-size="13.8" fill="#111" stroke="#111" stroke-width="0.35">5-Year</text>
<text transform="translate(385.17 575) scale(1.0253 1)" font-size="13.8" fill="#111" stroke="#111" stroke-width="0.35">Median</text>
<text transform="translate(181.4 595.4) scale(1.0000 1)" font-size="13.8" fill="#111" stroke="#111" stroke-width="0.35">Low</text>
<text transform="translate(225.52 595.4) scale(0.9814 1)" font-size="13.8" fill="#111" stroke="#111" stroke-width="0.35">127</text>
<text transform="translate(288.41 595.4) scale(1.0500 1)" font-size="13.8" fill="#111" stroke="#111" stroke-width="0.35">2</text>
<text transform="translate(338.23 595.4) scale(1.0500 1)" font-size="13.8" fill="#111" stroke="#111" stroke-width="0.35">99%</text>
<text transform="translate(397.46 595.4) scale(1.0411 1)" font-size="13.8" fill="#111" stroke="#111" stroke-width="0.35">NR</text>
<text transform="translate(181.37 614.8) scale(1.0340 1)" font-size="13.8" fill="#111" stroke="#111" stroke-width="0.35">High</text>
<text transform="translate(232.69 614.8) scale(1.0105 1)" font-size="13.8" fill="#111" stroke="#111" stroke-width="0.35">52</text>
<text transform="translate(288.39 614.8) scale(1.0222 1)" font-size="13.8" fill="#111" stroke="#111" stroke-width="0.35">5</text>
<text transform="translate(338.23 614.8) scale(1.0500 1)" font-size="13.8" fill="#111" stroke="#111" stroke-width="0.35">89%</text>
<text transform="translate(397.46 614.8) scale(1.0411 1)" font-size="13.8" fill="#111" stroke="#111" stroke-width="0.35">NR</text>
<text transform="translate(267.71 634.2) scale(0.9729 1)" font-size="13.8" fill="#111" stroke="#111" stroke-width="0.35"><tspan font-style="italic">P</tspan> = .011</text>
<text transform="translate(177.29 1003.3) scale(1.0058 1)" font-size="13.8" fill="#111" stroke="#111" stroke-width="0.35">Risk</text>
<text transform="translate(218.34 1003.3) scale(1.0321 1)" font-size="13.8" fill="#111" stroke="#111" stroke-width="0.35">Total</text>
<text transform="translate(260.22 1003.3) scale(0.9849 1)" font-size="13.8" fill="#111" stroke="#111" stroke-width="0.35">Died</text>
<text transform="translate(299.14 1003.3) scale(1.0500 1)" font-size="13.8" fill="#111" stroke="#111" stroke-width="0.35">5-Year</text>
<text transform="translate(352.47 1003.3) scale(1.0253 1)" font-size="13.8" fill="#111" stroke="#111" stroke-width="0.35">Median</text>
<text transform="translate(177.29 1022.6) scale(1.0122 1)" font-size="13.8" fill="#111" stroke="#111" stroke-width="0.35">Low</text>
<text transform="translate(221.4 1022.6) scale(1.0047 1)" font-size="13.8" fill="#111" stroke="#111" stroke-width="0.35">133</text>
<text transform="translate(267.79 1022.6) scale(1.0109 1)" font-size="13.8" fill="#111" stroke="#111" stroke-width="0.35">19</text>
<text transform="translate(306.18 1022.6) scale(1.0355 1)" font-size="13.8" fill="#111" stroke="#111" stroke-width="0.35">89%</text>
<text transform="translate(364.76 1022.6) scale(1.0411 1)" font-size="13.8" fill="#111" stroke="#111" stroke-width="0.35">NR</text>
<text transform="translate(177.27 1041.9) scale(1.0340 1)" font-size="13.8" fill="#111" stroke="#111" stroke-width="0.35">High</text>
<text transform="translate(229.1 1041.9) scale(0.9931 1)" font-size="13.8" fill="#111" stroke="#111" stroke-width="0.35">54</text>
<text transform="translate(274.42 1041.9) scale(0.9692 1)" font-size="13.8" fill="#111" stroke="#111" stroke-width="0.35">7</text>
<text transform="translate(306.18 1041.9) scale(1.0355 1)" font-size="13.8" fill="#111" stroke="#111" stroke-width="0.35">86%</text>
<text transform="translate(364.76 1041.9) scale(1.0411 1)" font-size="13.8" fill="#111" stroke="#111" stroke-width="0.35">NR</text>
<text transform="translate(249.31 1060.7) scale(0.9813 1)" font-size="13.8" fill="#111" stroke="#111" stroke-width="0.35"><tspan font-style="italic">P</tspan> = .742</text>
</svg></body></html>
